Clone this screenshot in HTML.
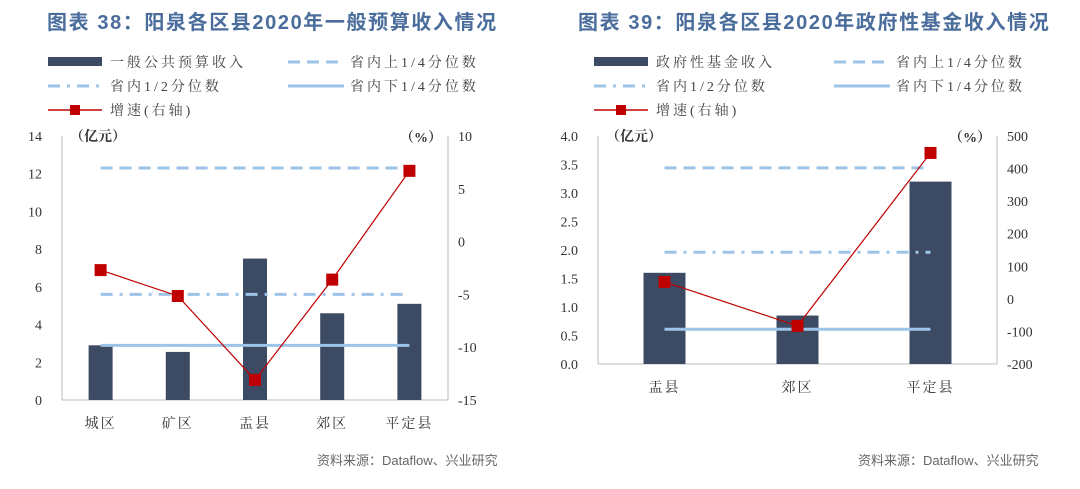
<!DOCTYPE html>
<html><head><meta charset="utf-8"><style>
body{margin:0;background:#fff;}
svg{display:block;font-family:"Liberation Serif","Noto Serif CJK SC",serif;}
.t{font-family:"Liberation Sans","Noto Sans CJK SC",sans-serif;font-size:20px;fill:#4a6d9c;font-weight:bold;letter-spacing:1.6px}
.src{font-family:"Liberation Sans","Noto Sans CJK SC",sans-serif;font-size:13px;fill:#666}
.tk{font-size:14px;fill:#333}
.lg{font-size:14px;fill:#444;letter-spacing:3px}
.un{font-size:14px;fill:#333;font-weight:bold}
</style></head><body>
<svg id="s" width="1080" height="489">
<text class="t" x="47" y="29">图表 38：阳泉各区县2020年一般预算收入情况</text>
<text class="t" x="578" y="29">图表 39：阳泉各区县2020年政府性基金收入情况</text>
<text class="src" x="317" y="465">资料来源：Dataflow、兴业研究</text>
<text class="src" x="858" y="465">资料来源：Dataflow、兴业研究</text>
<g id="L"></g><g id="R"></g>
</svg>
<script>
const catsL=["城区","矿区","盂县","郊区","平定县"];
const barsL=[2.9,2.55,7.5,4.6,5.1];
const growthL=[-2.7,-5.15,-13.1,-3.6,6.7];
const quartL=[12.3,5.6,2.9];
const leftTicksL=[0,2,4,6,8,10,12,14];
const rightTicksL=[-15,-10,-5,0,5,10];
const catsR=["盂县","郊区","平定县"];
const barsR=[1.6,0.85,3.2];
const growthR=[52,-83,448];
const quartR=[3.44,1.96,0.61];
const leftTicksR=["0.0","0.5","1.0","1.5","2.0","2.5","3.0","3.5","4.0"];
const rightTicksR=[-200,-100,0,100,200,300,400,500];
const NS="http://www.w3.org/2000/svg";
function mk(p,t,a,txt){const e=document.createElementNS(NS,t);for(const k in a)e.setAttribute(k,a[k]);if(txt!==undefined)e.textContent=txt;p.appendChild(e);return e;}
function draw(g,o){
 const {x0,x1,y0,y1,lmax,rmin,rmax,cats,bars,gr,q,lt,rt,bw,barName,lgx}=o;
 const yL=v=>y1-(v/lmax)*(y1-y0);
 const yR=v=>y1-(v-rmin)/(rmax-rmin)*(y1-y0);
 const step=(x1-x0)/cats.length, xc=i=>x0+step*(i+0.5);
 let e;
 e=mk(g,"rect",{x:lgx,y:57,width:54,height:9,fill:"#3d4a63"});
 e=mk(g,"text",{x:lgx+62,y:67,class:"lg"},barName);
 e=mk(g,"line",{x1:lgx+240,y1:62,x2:lgx+296,y2:62,stroke:"#9dc3e6","stroke-width":3,"stroke-dasharray":"12,7"});
 e=mk(g,"text",{x:lgx+302,y:67,class:"lg"},"省内上1/4分位数");
 e=mk(g,"line",{x1:lgx,y1:86,x2:lgx+54,y2:86,stroke:"#9dc3e6","stroke-width":3,"stroke-dasharray":"12,7,3,7"});
 e=mk(g,"text",{x:lgx+62,y:91,class:"lg"},"省内1/2分位数");
 e=mk(g,"line",{x1:lgx+240,y1:86,x2:lgx+296,y2:86,stroke:"#9dc3e6","stroke-width":3});
 e=mk(g,"text",{x:lgx+302,y:91,class:"lg"},"省内下1/4分位数");
 e=mk(g,"line",{x1:lgx,y1:110,x2:lgx+54,y2:110,stroke:"#c00000","stroke-width":1.5});
 e=mk(g,"rect",{x:lgx+22,y:105,width:10,height:10,fill:"#c00000"});
 e=mk(g,"text",{x:lgx+62,y:115,class:"lg"},"增速(右轴)");
 e=mk(g,"line",{x1:x0,y1:y0,x2:x0,y2:y1,stroke:"#bbb"});
 e=mk(g,"line",{x1:x1,y1:y0,x2:x1,y2:y1,stroke:"#bbb"});
 e=mk(g,"line",{x1:x0,y1:y1,x2:x1,y2:y1,stroke:"#bbb"});
 lt.forEach(v=>{e=mk(g,"text",{x:x0-20,y:yL(+v)+5,class:"tk","text-anchor":"end"},v);});
 rt.forEach(v=>{e=mk(g,"text",{x:x1+10,y:yR(v)+5,class:"tk"},v);});
 e=mk(g,"text",{x:x0+8,y:y0+5,class:"un"},"（亿元）");
 e=mk(g,"text",{x:x1-6,y:y0+6,class:"un","text-anchor":"end"},"（%）");
 cats.forEach((c,i)=>{
  e=mk(g,"rect",{x:xc(i)-bw/2,y:yL(bars[i]),width:bw,height:y1-yL(bars[i]),fill:"#3d4a63"});
  e=mk(g,"text",{x:xc(i),y:y1+28,class:"tk","text-anchor":"middle","letter-spacing":"2"},c);
 });
 const qa=[{d:"12,7",n:"upper-quartile-line"},{d:"12,7,3,7",n:"median-line"},{d:"",n:"lower-quartile-line"}];
 q.forEach((v,k)=>{const a={x1:xc(0),y1:yL(v),x2:xc(cats.length-1),y2:yL(v),stroke:"#9dc3e6","stroke-width":3};if(qa[k].d)a["stroke-dasharray"]=qa[k].d;e=mk(g,"line",a);});
 e=mk(g,"polyline",{points:gr.map((v,i)=>xc(i)+","+yR(v)).join(" "),fill:"none",stroke:"#c00000","stroke-width":1.2});
 gr.forEach((v,i)=>{e=mk(g,"rect",{x:xc(i)-6,y:yR(v)-6,width:12,height:12,fill:"#c00000"});});
}
draw(document.getElementById("L"),{x0:62,x1:448,y0:136,y1:400,lmax:14,rmin:-15,rmax:10,cats:catsL,bars:barsL,gr:growthL,q:quartL,lt:leftTicksL,rt:rightTicksL,bw:24,barName:"一般公共预算收入",lgx:48});
draw(document.getElementById("R"),{x0:598,x1:997,y0:136,y1:364,lmax:4,rmin:-200,rmax:500,cats:catsR,bars:barsR,gr:growthR,q:quartR,lt:leftTicksR,rt:rightTicksR,bw:42,barName:"政府性基金收入",lgx:594});
</script>
</body></html>
